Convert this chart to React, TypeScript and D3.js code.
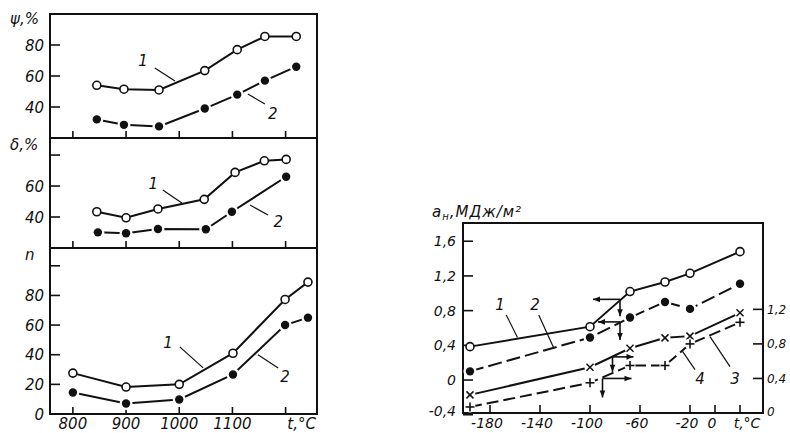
import * as d3 from "d3";

// left chart: temperatures (°C) and series
const tPsi = [845, 896, 962, 1048, 1109, 1161, 1220];
const psi1 = [54, 51.5, 51, 63.5, 77, 85.5, 85.5];
const psi2 = [32, 28.5, 27.5, 39, 48, 57, 66];

const tDelta1 = [845, 900, 960, 1047, 1105, 1160, 1201];
const delta1 = [43.4, 39.5, 45.2, 51.4, 68.8, 76.3, 77.2];
const tDelta2 = [847, 900, 960, 1050, 1099, 1201];
const delta2 = [30.1, 29.5, 32.3, 32.1, 43.4, 66];

const tN = [800, 900, 1000, 1101, 1199, 1242];
const n1 = [27.6, 18.2, 20, 41, 77.3, 89];
const n2 = [14.5, 7.1, 9.8, 26.7, 60, 65];

const leftXTicks = [800, 900, 1000, 1100, 1200];
const leftXLabels = ["800", "900", "1000", "1100", "t,°C"];

// right chart: impact strength vs test temperature
const tImpact = [-196, -100, -68, -40, -20, 20];
const impact1 = [0.385, 0.615, 1.02, 1.13, 1.23, 1.48];
const impact2 = [0.1, 0.49, 0.72, 0.9, 0.82, 1.11];
const impact3 = [0.21, 0.53, 0.75, 0.87, 0.89, 1.16]; // right axis
const impact4 = [0.07, 0.35, 0.55, 0.55, 0.8, 1.05]; // right axis

const rightXTicks = [-180, -140, -100, -60, -20, 0, 20];
const rightXLabels = ["-180", "-140", "-100", "-60", "-20", "0", "t,°C"];
const rightYTicks = [-0.4, 0, 0.4, 0.8, 1.2, 1.6];
const rightYLabels = ["-0,4", "0", "0,4", "0,8", "1,2", "1,6"];
const rightY2Ticks = [0, 0.4, 0.8, 1.2];
const rightY2Labels = ["0", "0,4", "0,8", "1,2"];

// arrows showing which axis a curve is read on
const arrowT = [-76, -76, -82, -90];
const arrowV = [0.93, 0.67, 0.65, 0.4];
const arrowAxis = ["left", "left", "right", "right"];
const arrowH = [27, 22, 21, 29];
const arrowDown = [17, 18, 15, 19];

const ink = "#111";
const font = "'DejaVu Sans', sans-serif";

const leftPanels = [
  {
    key: "psi", top: 14, bottom: 138, domain: [20, 100], ticks: [40, 60, 80], labels: [40, 60, 80],
    title: "ψ,%", titleX: 10, titleY: 24,
    t1: tPsi, s1: psi1, t2: tPsi, s2: psi2,
    // curve labels [text, x, y, leader x1, y1, x2, y2] in data units
    notes: [["1", 932, 69.7, 954, 65.2, 992, 56.8], ["2", 1176, 36.1, 1129, 48.4, 1161, 41.9]],
  },
  {
    key: "delta", top: 138, bottom: 248, domain: [20, 91], ticks: [40, 60, 80], labels: [40, 60],
    title: "δ,%", titleX: 10, titleY: 150,
    t1: tDelta1, s1: delta1, t2: tDelta2, s2: delta2,
    notes: [["1", 951, 61.9, 969, 57.4, 1005, 49], ["2", 1186, 36.8, 1133, 47.7, 1167, 41.3]],
  },
  {
    key: "n", top: 248, bottom: 414, domain: [0, 112], ticks: [0, 20, 40, 60, 80, 100], labels: [0, 20, 40, 60, 80],
    title: "n", titleX: 25, titleY: 260,
    t1: tN, s1: n1, t2: tN, s2: n2,
    notes: [["1", 979, 48, 1001, 45.3, 1045, 31.1], ["2", 1199, 25, 1148, 39.9, 1186, 31.1]],
  },
];

const rightNotes: [string, number, number, number, number, number, number][] = [
  ["1", -172, 0.87, -167, 0.75, -158, 0.49],
  ["2", -144, 0.87, -141, 0.75, -129, 0.37],
  ["3", 16, 0.016, -4, 0.5, 12, 0.155],
  ["4", -12, 0.016, -26, 0.33, -16, 0.12],
];

type Pt = [number, number];

function Open({ p }: { p: Pt }) {
  return <circle cx={p[0]} cy={p[1]} r={4} fill="#fff" stroke={ink} strokeWidth={1.6} />;
}
function Dot({ p }: { p: Pt }) {
  return (
    <g>
      <circle cx={p[0]} cy={p[1]} r={6.5} fill="#fff" />
      <circle cx={p[0]} cy={p[1]} r={4.2} fill={ink} />
    </g>
  );
}
function Cross({ p }: { p: Pt }) {
  const s = 3.5;
  return (
    <g stroke={ink} strokeWidth={1.5}>
      <circle cx={p[0]} cy={p[1]} r={5.5} fill="#fff" stroke="none" />
      <line x1={p[0] - s} y1={p[1] - s} x2={p[0] + s} y2={p[1] + s} />
      <line x1={p[0] - s} y1={p[1] + s} x2={p[0] + s} y2={p[1] - s} />
    </g>
  );
}
function Plus({ p }: { p: Pt }) {
  const s = 4.5;
  return (
    <g stroke={ink} strokeWidth={1.6}>
      <circle cx={p[0]} cy={p[1]} r={5.5} fill="#fff" stroke="none" />
      <line x1={p[0] - s} y1={p[1]} x2={p[0] + s} y2={p[1]} />
      <line x1={p[0]} y1={p[1] - s} x2={p[0]} y2={p[1] + s} />
    </g>
  );
}

export default function App() {
  // left chart
  const lx0 = 50, lx1 = 317;
  const xL = d3.scaleLinear().domain([757, 1259]).range([lx0, lx1]);

  // right chart
  const rx0 = 463, rx1 = 763, rTop = 223, rBottom = 413;
  const xR = d3.scaleLinear().domain([-201.6, 38.4]).range([rx0, rx1]);
  const yR = d3.scaleLinear().domain([-0.38, 1.81]).range([rBottom, rTop]);
  const yR2 = d3.scaleLinear().domain([0, 2.2]).range([rBottom, rTop]);

  const line = d3.line<Pt>();
  const pts = (ts: number[], vs: number[], x: any, y: any): Pt[] => ts.map((t, i) => [x(t), y(vs[i])]);

  const r1 = pts(tImpact, impact1, xR, yR);
  const r2 = pts(tImpact, impact2, xR, yR);
  const r3 = pts(tImpact, impact3, xR, yR2);
  const r4 = pts(tImpact, impact4, xR, yR2);

  const txt = { fontFamily: font, fontStyle: "italic", fill: ink } as const;

  return (
    <svg width={790} height={433} style={{ position: "absolute", left: 0, top: 0, background: "#fff" }}>
      <defs>
        <marker id="ah" viewBox="0 0 10 10" refX="10" refY="5" markerWidth="9" markerHeight="7" markerUnits="userSpaceOnUse" orient="auto">
          <path d="M0,1 L10,5 L0,9 Z" fill={ink} />
        </marker>
      </defs>

      {/* ---------- left chart: three stacked panels ---------- */}
      {leftPanels.map((pn) => {
        const y = d3.scaleLinear().domain(pn.domain).range([pn.bottom, pn.top]);
        const p1 = pts(pn.t1, pn.s1, xL, y);
        const p2 = pts(pn.t2, pn.s2, xL, y);
        return (
          <g key={pn.key}>
            <rect x={lx0} y={pn.top} width={lx1 - lx0} height={pn.bottom - pn.top} fill="none" stroke={ink} strokeWidth={2} />
            {pn.ticks.map((v) => (
              <line key={v} x1={lx0} x2={lx0 + 10} y1={y(v)} y2={y(v)} stroke={ink} strokeWidth={1.6} />
            ))}
            {pn.labels.map((v) => (
              <text key={v} x={44} y={y(v) + 5.5} textAnchor="end" fontSize={15} {...txt}>{v}</text>
            ))}
            {leftXTicks.map((t) => (
              <line key={t} x1={xL(t)} x2={xL(t)} y1={pn.bottom} y2={pn.bottom - 7} stroke={ink} strokeWidth={1.6} />
            ))}
            <text x={pn.titleX} y={pn.titleY} fontSize={15} {...txt}>{pn.title}</text>
            <path d={line(p1) ?? ""} fill="none" stroke={ink} strokeWidth={2} />
            <path d={line(p2) ?? ""} fill="none" stroke={ink} strokeWidth={2} />
            {p2.map((p, i) => <Dot key={i} p={p} />)}
            {p1.map((p, i) => <Open key={i} p={p} />)}
            {pn.notes.map((nt) => (
              <g key={nt[0] as string}>
                <text x={xL(nt[1] as number)} y={y(nt[2] as number) + 5.5} textAnchor="middle" fontSize={15} {...txt}>{nt[0]}</text>
                <line x1={xL(nt[3] as number)} y1={y(nt[4] as number)} x2={xL(nt[5] as number)} y2={y(nt[6] as number)} stroke={ink} strokeWidth={1.2} />
              </g>
            ))}
          </g>
        );
      })}
      {leftXLabels.map((l, i) => (
        <text key={l} x={xL(leftXTicks[i]) + (i === 4 ? 16 : 0)} y={429} textAnchor="middle" fontSize={15} {...txt}>{l}</text>
      ))}

      {/* ---------- right chart: impact strength ---------- */}
      <rect x={rx0} y={rTop} width={rx1 - rx0} height={rBottom - rTop} fill="none" stroke={ink} strokeWidth={2} />
      <text x={432} y={217} fontSize={15} letterSpacing={1} {...txt}>
        a<tspan fontSize={10} dy={3}>н</tspan><tspan dy={-3}>,МДж/м²</tspan>
      </text>
      {rightYTicks.map((v, i) => (
        <g key={v}>
          <line x1={rx0} x2={rx0 + 10} y1={yR(v)} y2={yR(v)} stroke={ink} strokeWidth={1.6} />
          <text x={456} y={Math.min(yR(v), 411) + 5} textAnchor="end" fontSize={14} {...txt}>{rightYLabels[i]}</text>
        </g>
      ))}
      {rightY2Ticks.map((v, i) => (
        <g key={v}>
          <line x1={rx1 - 10} x2={rx1} y1={yR2(v)} y2={yR2(v)} stroke={ink} strokeWidth={1.6} />
          <text x={767} y={Math.min(yR2(v), 411) + 4.5} fontSize={12} {...txt}>{rightY2Labels[i]}</text>
        </g>
      ))}
      {rightXTicks.map((t, i) => (
        <g key={t}>
          <line x1={xR(t)} x2={xR(t)} y1={rBottom} y2={rBottom - 8} stroke={ink} strokeWidth={1.6} />
          <text x={xR(t) + (i === 6 ? 7 : -3)} y={428} textAnchor="middle" fontSize={14} {...txt}>{rightXLabels[i]}</text>
        </g>
      ))}

      <path d={line(r1) ?? ""} fill="none" stroke={ink} strokeWidth={2} />
      <path d={line(r2) ?? ""} fill="none" stroke={ink} strokeWidth={2} strokeDasharray="14 5" />
      <path d={line(r3) ?? ""} fill="none" stroke={ink} strokeWidth={2} />
      <path d={line(r4) ?? ""} fill="none" stroke={ink} strokeWidth={2} strokeDasharray="12 5" />
      {r2.map((p, i) => <Dot key={i} p={p} />)}
      {r1.map((p, i) => <Open key={i} p={p} />)}
      {r3.map((p, i) => <Cross key={i} p={p} />)}
      {r4.map((p, i) => <Plus key={i} p={p} />)}

      {arrowT.map((t, i) => {
        const cx = xR(t);
        const cy = arrowAxis[i] === "left" ? yR(arrowV[i]) : yR2(arrowV[i]);
        const dir = arrowAxis[i] === "left" ? -1 : 1;
        return (
          <g key={i} stroke={ink} strokeWidth={1.6}>
            <line x1={cx} y1={cy} x2={cx + dir * arrowH[i]} y2={cy} markerEnd="url(#ah)" />
            <line x1={cx} y1={cy} x2={cx} y2={cy + arrowDown[i]} markerEnd="url(#ah)" />
          </g>
        );
      })}

      {rightNotes.map((nt) => (
        <g key={nt[0]}>
          <text x={xR(nt[1])} y={yR(nt[2]) + 5.5} textAnchor="middle" fontSize={15} {...txt}>{nt[0]}</text>
          <line x1={xR(nt[3])} y1={yR(nt[4])} x2={xR(nt[5])} y2={yR(nt[6])} stroke={ink} strokeWidth={1.2} />
        </g>
      ))}
    </svg>
  );
}
